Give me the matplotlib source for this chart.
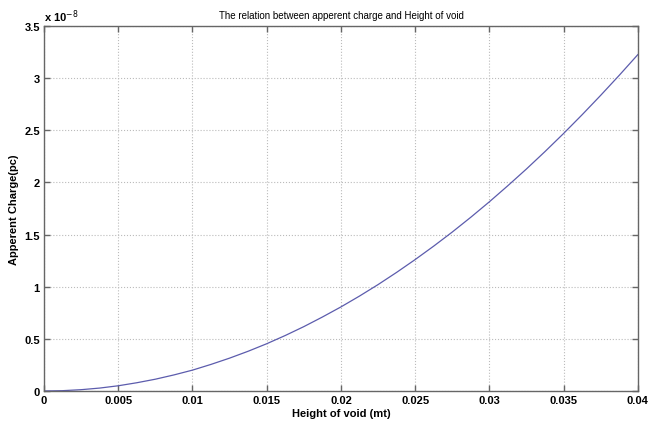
import matplotlib
matplotlib.use("Agg")
import matplotlib.pyplot as plt

# values (y in units of 1e-8)
height_of_void = [0.0, 0.00125, 0.0025, 0.00375, 0.005, 0.00625, 0.0075, 0.00875,
                  0.01, 0.01125, 0.0125, 0.01375, 0.015, 0.01625, 0.0175, 0.01875,
                  0.02, 0.02125, 0.0225, 0.02375, 0.025, 0.02625, 0.0275, 0.02875,
                  0.03, 0.03125, 0.0325, 0.03375, 0.035, 0.03625, 0.0375, 0.03875, 0.04]
apperent_charge = [0.0, 0.003, 0.0125, 0.028, 0.05, 0.079, 0.113, 0.154,
                   0.2, 0.255, 0.315, 0.381, 0.453, 0.532, 0.617, 0.709,
                   0.806, 0.91, 1.02, 1.137, 1.26, 1.389, 1.524, 1.666,
                   1.814, 1.969, 2.129, 2.296, 2.469, 2.649, 2.835, 3.027, 3.225]

x_ticks = [0, 0.005, 0.01, 0.015, 0.02, 0.025, 0.03, 0.035, 0.04]
x_tick_labels = ["0", "0.005", "0.01", "0.015", "0.02", "0.025", "0.03", "0.035", "0.04"]
y_ticks = [0, 0.5, 1, 1.5, 2, 2.5, 3, 3.5]
y_tick_labels = ["0", "0.5", "1", "1.5", "2", "2.5", "3", "3.5"]

font = ["Liberation Sans Narrow", "Liberation Sans", "DejaVu Sans"]
plt.rcParams["font.family"] = font

fig = plt.figure(figsize=(6.61, 4.27), dpi=100)
ax = fig.add_axes([0.0666, 0.082, 0.8984, 0.855])

ax.plot(height_of_void, apperent_charge, color="#5c5cad", linewidth=0.9)

ax.set_xlim(0, 0.04)
ax.set_ylim(0, 3.5)
ax.set_xticks(x_ticks)
ax.set_xticklabels(x_tick_labels, fontsize=8, fontweight="bold")
ax.set_yticks(y_ticks)
ax.set_yticklabels(y_tick_labels, fontsize=8, fontweight="bold")
ax.tick_params(direction="in", length=4, width=1, color="#666666", top=True, right=True, pad=3)
ax.grid(True, linestyle=":", color="#bbbbbb", linewidth=0.8)
for s in ax.spines.values():
    s.set_color("#666666")
    s.set_linewidth(1)

ax.text(0.0, 1.005, r"x 10$^{-8}$", transform=ax.transAxes, fontsize=8, fontweight="bold",
        va="bottom", ha="left")
ax.set_title("The relation between apperent charge and Height of void", fontsize=7, pad=6)
ax.set_xlabel("Height of void (mt)", fontsize=8, fontweight="bold", labelpad=2)
ax.set_ylabel("Apperent Charge(pc)", fontsize=8, fontweight="bold", labelpad=4)

fig.savefig("out.png", dpi=100)
